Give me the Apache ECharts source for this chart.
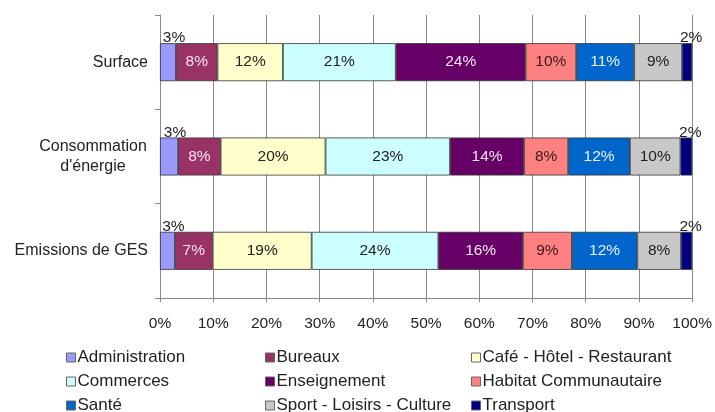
<!DOCTYPE html>
<html>
<head>
<meta charset="utf-8">
<script src="https://cdn.jsdelivr.net/npm/echarts@6/dist/echarts.min.js"></script>
<style>
html,body{margin:0;padding:0;background:#fff;}
#chart{width:715px;height:412px;}
</style>
</head>
<body>
<div id="chart"></div>
<script>
var categories = ['Surface', 'Consommation\nd\'énergie', 'Emissions de GES'];
var seriesNames = ['Administration', 'Bureaux', 'Café - Hôtel - Restaurant', 'Commerces', 'Enseignement', 'Habitat Communautaire', 'Santé', 'Sport - Loisirs - Culture', 'Transport'];
var administration = [3.0, 3.4, 2.8];
var bureaux = [7.8, 8.0, 7.1];
var cafe = [12.3, 19.7, 18.6];
var commerces = [21.2, 23.4, 23.8];
var enseignement = [24.4, 13.9, 15.9];
var habitat = [9.5, 8.3, 9.2];
var sante = [10.9, 11.6, 12.3];
var sport = [9.0, 9.5, 8.2];
var transport = [1.9, 2.2, 2.1];
var xTicks = [0, 10, 20, 30, 40, 50, 60, 70, 80, 90, 100];

var seriesData = [administration, bureaux, cafe, commerces, enseignement, habitat, sante, sport, transport];
var colors = ['#9999FF', '#993366', '#FFFFCC', '#CCFFFF', '#660066', '#FF8080', '#0066CC', '#C8C8C8', '#000080'];
var labelColors = ['#222', '#f4e4ee', '#222', '#222', '#f2e6f2', '#3a1a1a', '#e8f2ff', '#222', '#222'];
var FONT = '"Liberation Sans", Arial, sans-serif';

var series = seriesNames.map(function (name, i) {
  var outside = (i === 0 || i === 8);
  return {
    name: name,
    type: 'bar',
    stack: 'total',
    barWidth: 38,
    data: seriesData[i],
    itemStyle: { color: colors[i], borderColor: '#333', borderWidth: 0.8 },
    label: {
      show: true,
      position: outside ? 'top' : 'inside',
      distance: 0,
      offset: outside ? (i === 0 ? [6, 3] : [4, 3]) : [0, 0],
      formatter: function (p) { return Math.round(p.value) + '%'; },
      color: labelColors[i],
      fontSize: 15.5,
      fontFamily: FONT
    },
    emphasis: { disabled: true }
  };
});

var legendCommon = {
  orient: 'vertical',
  top: 349,
  padding: 0,
  height: 70,
  itemWidth: 9,
  itemHeight: 9,
  itemGap: 7,
  icon: 'rect',
  selectedMode: false,
  itemStyle: { borderColor: '#666', borderWidth: 1 },
  textStyle: { fontSize: 17, fontFamily: FONT, color: '#222', lineHeight: 16, padding: [0, 0, 0, -3] }
};

var chart = echarts.init(document.getElementById('chart'), null, { renderer: 'canvas' });
chart.setOption({
  animation: false,
  backgroundColor: '#fff',
  color: colors,
  grid: { left: 160, right: 20, top: 15, bottom: 114, containLabel: false },
  legend: [
    Object.assign({}, legendCommon, { left: 66, data: [seriesNames[0], seriesNames[3], seriesNames[6]] }),
    Object.assign({}, legendCommon, { left: 265, data: [seriesNames[1], seriesNames[4], seriesNames[7]] }),
    Object.assign({}, legendCommon, { left: 471, data: [seriesNames[2], seriesNames[5], seriesNames[8]] })
  ],
  xAxis: {
    type: 'value',
    min: xTicks[0],
    max: xTicks[xTicks.length - 1],
    interval: 10,
    axisLine: { show: true, lineStyle: { color: '#888', width: 1 } },
    axisTick: { show: true, length: 4, lineStyle: { color: '#888' } },
    splitLine: { show: true, lineStyle: { color: '#888', width: 1 } },
    axisLabel: {
      formatter: function (v) { return v + '%'; },
      fontSize: 15.5,
      fontFamily: FONT,
      color: '#222',
      margin: 18
    }
  },
  yAxis: {
    type: 'category',
    inverse: true,
    data: categories,
    axisLine: { show: true, lineStyle: { color: '#888', width: 1 } },
    axisTick: { show: true, length: 5, lineStyle: { color: '#888' } },
    splitLine: { show: false },
    axisLabel: {
      margin: 12,
      fontSize: 16,
      fontFamily: FONT,
      color: '#222',
      formatter: function (v) {
        var parts = v.split('\n');
        if (parts.length > 1) {
          return parts.map(function (s) { return '{c|' + s + '}'; }).join('\n');
        }
        return v;
      },
      rich: {
        c: { width: 110, align: 'center', fontSize: 16, fontFamily: FONT, color: '#222', lineHeight: 20 }
      }
    }
  },
  series: series
});
</script>
</body>
</html>
